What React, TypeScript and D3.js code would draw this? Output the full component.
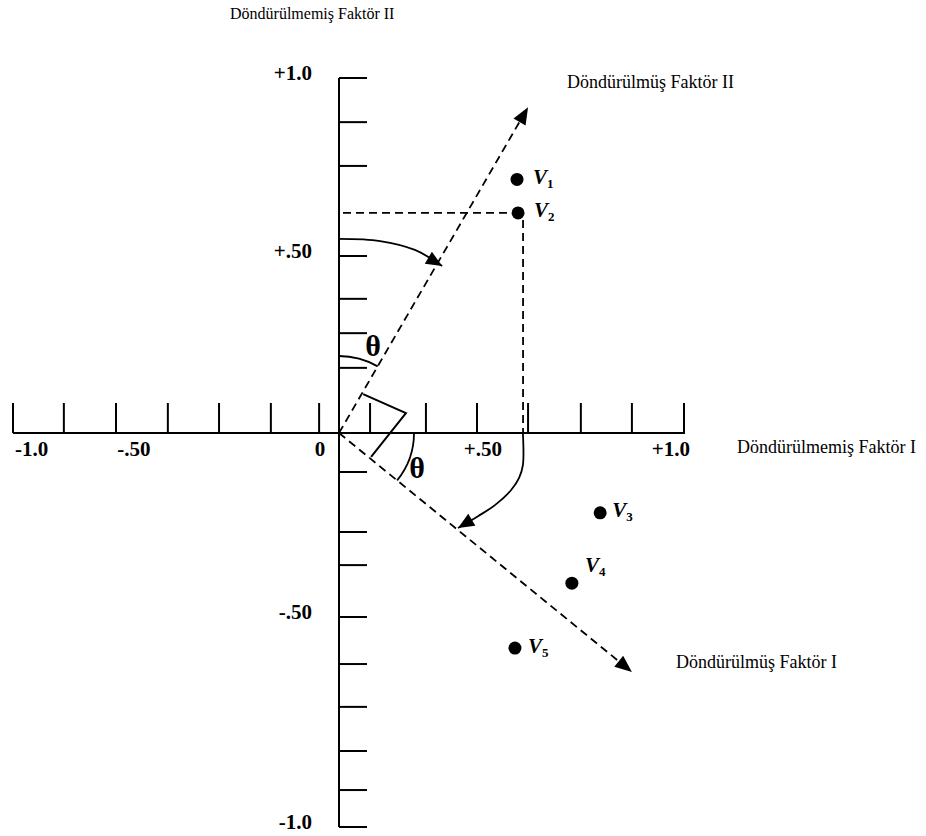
import React, { useEffect, useRef } from 'react';
import * as d3 from 'd3';

const WIDTH = 926;
const HEIGHT = 836;

// the drawn scale is uneven, so the axes are pinned at the labelled values
const xAnchors = [-1, 0, 1];
const yAnchors = [-1, -0.5, 0, 0.5, 1];

// tick marks (axis units)
const xTicks = [-1, -0.844, -0.684, -0.525, -0.368, -0.209, -0.061, 0.09, 0.252, 0.4, 0.548, 0.701, 0.849, 1];
const yTicks = [1, 0.876, 0.753, 0.5, 0.379, 0.282, 0.184, -0.106, -0.269, -0.359, -0.5, -0.612, -0.714, -0.819, -0.912, -1];

const xTickLabels = ['-1.0', '-.50', '0', '+.50', '+1.0'];
const xTickLabelAt = [-0.943, -0.629, -0.058, 0.417, 0.962];
const yTickLabels = ['+1.0', '+.50', '-.50', '-1.0'];
const yTickLabelAt = [1, 0.5, -0.5, -1];

// variables and their loadings on the unrotated factors
const variables = ['1', '2', '3', '4', '5'];
const loadingsI = [0.516, 0.519, 0.757, 0.675, 0.51];
const loadingsII = [0.715, 0.621, -0.217, -0.408, -0.574];

// tips of the rotated factor axes
const rotatedITip = [0.849, -0.631];
const rotatedIITip = [0.548, 0.918];

// curved rotation arrows
const upperArrow = [[0, 0.548], [0.119, 0.542], [0.22, 0.517], [0.299, 0.472]];
const lowerArrow = [[0.533, 0], [0.533, -0.087], [0.522, -0.122], [0.499, -0.155], [0.452, -0.196], [0.403, -0.226], [0.345, -0.258]];

// right angle marker between the rotated axes
const rightAngle = [[0.07, 0.11], [0.194, 0.056], [0.093, -0.065]];

const thetaAt = [[0.099, 0.246], [0.226, -0.095]];

const labelDx = [16, 16, 12, 13, 13];
const labelDy = [5, 4, 4, -11, 5];

export default function App() {
  const ref = useRef<SVGSVGElement>(null);

  useEffect(() => {
    const svg = d3.select(ref.current);
    svg.selectAll('*').remove();

    const x = d3.scaleLinear().domain(xAnchors).range([13, 339, 684]);
    const y = d3.scaleLinear().domain(yAnchors).range([827, 617, 433, 256, 78]);

    const ox = x(0);
    const oy = y(0);
    const serif = '"Liberation Serif", "Times New Roman", serif';

    // arrowhead as filled triangle, returns the base point so the line can stop there
    const head = (from: number[], tip: number[], len = 17, half = 7) => {
      const dx = tip[0] - from[0];
      const dy = tip[1] - from[1];
      const d = Math.hypot(dx, dy);
      const ux = dx / d, uy = dy / d;
      const bx = tip[0] - ux * len, by = tip[1] - uy * len;
      svg.append('path')
        .attr('d', `M${tip[0]},${tip[1]}L${bx - uy * half},${by + ux * half}L${bx + uy * half},${by - ux * half}Z`)
        .attr('fill', '#000');
      return [bx, by];
    };

    // unrotated axes
    svg.append('line')
      .attr('x1', ox).attr('x2', ox)
      .attr('y1', y(1)).attr('y2', y(-1))
      .attr('stroke', '#000').attr('stroke-width', 2);
    svg.append('line')
      .attr('x1', x(-1)).attr('x2', x(1) + 1)
      .attr('y1', oy).attr('y2', oy)
      .attr('stroke', '#000').attr('stroke-width', 2);

    svg.append('g').selectAll('line')
      .data(yTicks)
      .enter().append('line')
      .attr('x1', ox).attr('x2', ox + 28)
      .attr('y1', d => y(d)).attr('y2', d => y(d))
      .attr('stroke', '#000').attr('stroke-width', 2);

    svg.append('g').selectAll('line')
      .data(xTicks)
      .enter().append('line')
      .attr('x1', d => x(d)).attr('x2', d => x(d))
      .attr('y1', oy).attr('y2', oy - 30)
      .attr('stroke', '#000').attr('stroke-width', 2);

    svg.append('g').selectAll('text')
      .data(xTickLabels)
      .enter().append('text')
      .attr('x', (d, i) => x(xTickLabelAt[i]))
      .attr('y', oy + 23)
      .attr('text-anchor', 'middle')
      .attr('font-family', serif).attr('font-weight', 'bold').attr('font-size', 21)
      .text(d => d);

    svg.append('g').selectAll('text')
      .data(yTickLabels)
      .enter().append('text')
      .attr('x', 312)
      .attr('y', (d, i) => y(yTickLabelAt[i]) + 2)
      .attr('text-anchor', 'end')
      .attr('font-family', serif).attr('font-weight', 'bold').attr('font-size', 21)
      .text(d => d);

    // projection of V2 onto the unrotated axes
    const v2x = x(loadingsI[1]);
    const v2y = y(loadingsII[1]);
    svg.append('line')
      .attr('x1', ox + 4).attr('x2', v2x)
      .attr('y1', v2y).attr('y2', v2y)
      .attr('stroke', '#000').attr('stroke-width', 1.8).attr('stroke-dasharray', '8,5');
    svg.append('line')
      .attr('x1', v2x + 5).attr('x2', v2x + 5)
      .attr('y1', v2y + 7).attr('y2', oy)
      .attr('stroke', '#000').attr('stroke-width', 1.8).attr('stroke-dasharray', '8,5');

    // rotated axes
    [rotatedIITip, rotatedITip].forEach(t => {
      const tip = [x(t[0]), y(t[1])];
      const base = head([ox, oy], tip);
      svg.append('line')
        .attr('x1', ox).attr('y1', oy)
        .attr('x2', base[0]).attr('y2', base[1])
        .attr('stroke', '#000').attr('stroke-width', 1.8).attr('stroke-dasharray', '8,5');
    });

    // curved rotation arrows
    const curve = d3.line<number[]>()
      .x(d => x(d[0])).y(d => y(d[1]))
      .curve(d3.curveCatmullRom);
    [upperArrow, lowerArrow].forEach(pts => {
      const n = pts.length;
      const tip = [x(pts[n - 1][0]), y(pts[n - 1][1])];
      const prev = [x(pts[n - 2][0]), y(pts[n - 2][1])];
      svg.append('path')
        .attr('d', curve(pts))
        .attr('fill', 'none').attr('stroke', '#000').attr('stroke-width', 1.8);
      head(prev, tip, 16, 7);
    });

    // right angle marker
    svg.append('path')
      .attr('d', d3.line<number[]>().x(d => x(d[0])).y(d => y(d[1]))(rightAngle))
      .attr('fill', 'none').attr('stroke', '#000').attr('stroke-width', 2);

    // theta arcs
    const angII = Math.atan2(y(rotatedIITip[1]) - oy, x(rotatedIITip[0]) - ox);
    const angI = Math.atan2(y(rotatedITip[1]) - oy, x(rotatedITip[0]) - ox);
    const upper = d3.path();
    upper.arc(ox, oy, 77, -Math.PI / 2, angII);
    const lower = d3.path();
    lower.arc(ox, oy, 75, 0, angI);
    [upper, lower].forEach(p => {
      svg.append('path')
        .attr('d', p.toString())
        .attr('fill', 'none').attr('stroke', '#000').attr('stroke-width', 1.8);
    });

    svg.append('g').selectAll('text')
      .data(thetaAt)
      .enter().append('text')
      .attr('x', d => x(d[0])).attr('y', d => y(d[1]) + 10)
      .attr('text-anchor', 'middle')
      .attr('font-family', serif).attr('font-weight', 'bold').attr('font-size', 30)
      .text('\u03b8');

    // variables
    svg.append('g').selectAll('circle')
      .data(variables)
      .enter().append('circle')
      .attr('cx', (d, i) => x(loadingsI[i]))
      .attr('cy', (d, i) => y(loadingsII[i]))
      .attr('r', 6.5)
      .attr('fill', '#000');

    const labels = svg.append('g').selectAll('text')
      .data(variables)
      .enter().append('text')
      .attr('x', (d, i) => x(loadingsI[i]) + labelDx[i])
      .attr('y', (d, i) => y(loadingsII[i]) + labelDy[i])
      .attr('font-family', serif).attr('font-weight', 'bold');
    labels.append('tspan')
      .attr('font-style', 'italic').attr('font-size', 21)
      .text('V');
    labels.append('tspan')
      .attr('font-size', 13).attr('dy', 4)
      .text(d => d);

    // axis titles
    const titles = [
      { t: 'Döndürülmemiş Faktör II', x: 230, y: 19, s: 16 },
      { t: 'Döndürülmüş Faktör II', x: 567, y: 88, s: 18 },
      { t: 'Döndürülmemiş Faktör I', x: 737, y: 453, s: 18 },
      { t: 'Döndürülmüş Faktör I', x: 676, y: 668, s: 18 },
    ];
    svg.append('g').selectAll('text')
      .data(titles)
      .enter().append('text')
      .attr('x', d => d.x).attr('y', d => d.y)
      .attr('font-family', serif).attr('font-size', d => d.s)
      .text(d => d.t);
  }, []);

  return (
    <svg
      ref={ref}
      width={WIDTH}
      height={HEIGHT}
      style={{ position: 'absolute', left: 0, top: 0, background: '#fff' }}
    />
  );
}
